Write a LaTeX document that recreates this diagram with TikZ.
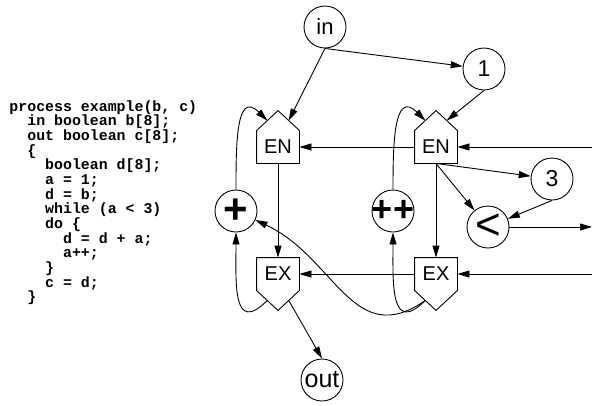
\documentclass[tikz,border=0pt]{standalone}
\usepackage{fontspec}
\setmainfont{Liberation Sans}
\setmonofont{Liberation Mono}
\usetikzlibrary{arrows.meta, calc}
\setlength{\lineskiplimit}{-20pt}

\begin{document}
\begin{tikzpicture}[x=1pt, y=-1pt, line width=0.9pt,
    flow/.style={-{Triangle[length=12pt, width=7pt]}},
    op/.style={circle, draw, minimum size=42pt, inner sep=0pt},
    port/.style={rectangle, minimum width=42pt, minimum height=32pt, inner sep=0pt,
      font=\fontsize{20}{24}\selectfont}]
  \useasboundingbox (0,0) rectangle (592,405);

  % source listing
  \node[anchor=north west, align=left, inner sep=0pt,
    font=\ttfamily\bfseries\fontsize{14.9}{14.66}\selectfont] (code) at (9,100) {%
    process example(b, c)\\
    ~~in boolean b[8];\\
    ~~out boolean c[8];\\
    ~~\{\\
    ~~~~boolean d[8];\\
    ~~~~a = 1;\\
    ~~~~d = b;\\
    ~~~~while (a < 3)\\
    ~~~~do \{\\
    ~~~~~~d = d + a;\\
    ~~~~~~a++;\\
    ~~~~\}\\
    ~~~~c = d;\\
    ~~\}};

  % operators and constants
  \node[op, font=\fontsize{22}{24}\selectfont] (in) at (325,27) {in};
  \node[op, font=\fontsize{23}{26}\selectfont] (one) at (484,69) {1};
  \node[op, font=\fontsize{23}{26}\selectfont] (three) at (552,179) {3};
  \node[op, font=\bfseries\fontsize{42}{44}\selectfont] (plus) at (236,211) {+};
  \node[op, font=\bfseries\fontsize{36}{40}\selectfont] (incr) at (393,211) {\makebox[0pt]{++}};
  \node[op, font=\fontsize{44}{48}\selectfont] (less) at (488,227) {<};
  \node[op, font=\fontsize{25}{28}\selectfont] (out) at (322,380) {out};

  % entry and exit ports of the loop
  \node[port] (en1) at (278,147) {EN};
  \node[port] (en2) at (436,147) {EN};
  \node[port] (ex1) at (278,274) {EX};
  \node[port] (ex2) at (436,274) {EX};
  \foreach \p in {en1,en2} {
    \coordinate (\p-tip) at ([yshift=20pt]\p.north);
    \draw (\p.south west) -- (\p.north west) -- (\p-tip) -- (\p.north east) -- (\p.south east) -- cycle;
    \coordinate (\p-l) at ($(\p.north west)!.5!(\p-tip)$);
    \coordinate (\p-r) at ($(\p.north east)!.5!(\p-tip)$);
  }
  \foreach \p in {ex1,ex2} {
    \coordinate (\p-tip) at ([yshift=-20pt]\p.south);
    \draw (\p.north west) -- (\p.south west) -- (\p-tip) -- (\p.south east) -- (\p.north east) -- cycle;
    \coordinate (\p-l) at ($(\p.south west)!.5!(\p-tip)$);
    \coordinate (\p-r) at ($(\p.south east)!.5!(\p-tip)$);
  }

  % wires leaving the frame
  \coordinate (en-feed) at (592,147);
  \coordinate (ex-feed) at (592,274);
  \coordinate (cond) at (592,227);

  % data flow
  \draw[flow] (in.south) -- (en1-r);
  \draw[flow] (in.south) -- (one);
  \draw[flow] (one.south) -- (en2-r);
  \draw[flow] (en1) -- (ex1);
  \draw[flow] (en2) -- (ex2);
  \draw[flow] (en2.south) -- (three);
  \draw[flow] (en2.south) -- (less);
  \draw[flow] (three.south) -- (less);
  \draw[flow] (less) -- (cond);
  \draw[flow] (en-feed) -- (en2);
  \draw[flow] (en2) -- (en1);
  \draw[flow] (ex-feed) -- (ex2);
  \draw[flow] (ex2) -- (ex1);
  \draw[flow] (ex1-r) -- (out.north);

  % loop back edges
  \draw[flow] (plus) to[out=90, in=135, looseness=1.5] (en1-l);
  \draw[flow] (incr) to[out=90, in=135, looseness=1.5] (en2-l);
  \draw[flow] (ex1-l) to[out=225, in=270, looseness=1.7] (plus);
  \draw[flow] (ex2-l) to[out=225, in=270, looseness=1.7] (incr);
  \draw[flow] (ex2-l) to[out=215, in=-25, looseness=1.2] (plus);
\end{tikzpicture}
\end{document}
